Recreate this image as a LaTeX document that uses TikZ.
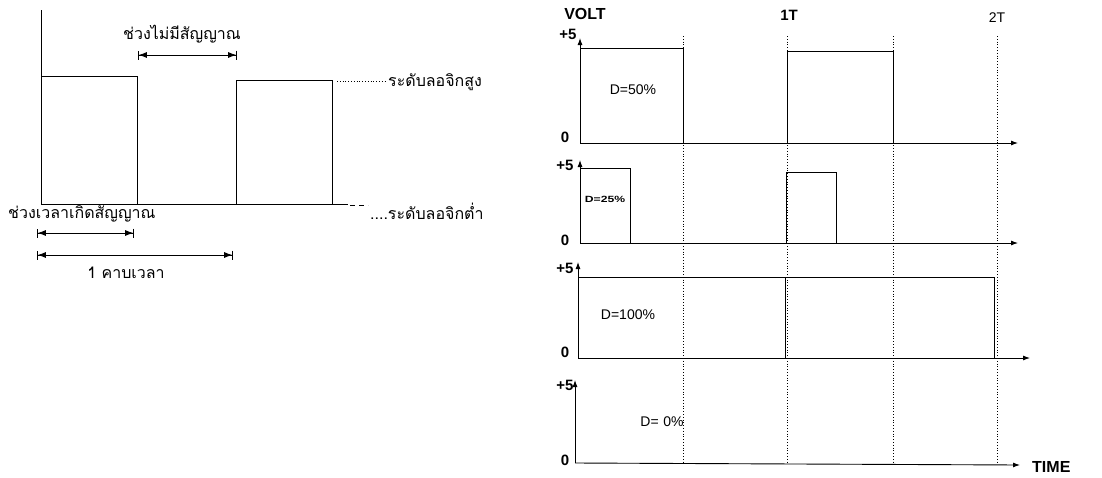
\documentclass[tikz,border=0pt]{standalone}
\usepackage{fontspec}
\usepackage{graphicx}
\setmainfont{Liberation Sans}
\newfontfamily\thaifont[Script=Thai]{Loma}
\usetikzlibrary{arrows.meta}
\tikzset{
  sig/.style={line width=1pt, line join=miter},
  axis/.style={line width=0.9pt},
  grid/.style={line width=0.8pt, dotted},
  dim/.style={line width=0.8pt, {Bar[width=9pt]Latex[length=8pt,width=6pt]}-{Latex[length=8pt,width=6pt]Bar[width=9pt]}},
  axarr/.style={axis, -{Latex[length=7pt,width=5pt]}},
  thai/.style={font=\thaifont\fontsize{16}{18}\selectfont, inner sep=0pt},
  lab/.style={font=\bfseries\fontsize{15}{17}\selectfont, inner sep=0pt},
  dlab/.style={font=\fontsize{14}{16}\selectfont, inner sep=0pt},
}
\begin{document}
\begin{tikzpicture}[x=1pt,y=-1pt]
\useasboundingbox (0,0) rectangle (1102,477);
% ---------- left diagram ----------
\coordinate (top) at (41,10);
\coordinate (o) at (41,204);
\coordinate (p1a) at (41,76);
\coordinate (p1b) at (137,76);
\coordinate (p1c) at (137,204);
\coordinate (p2a) at (236,204);
\coordinate (p2b) at (236,80);
\coordinate (p2c) at (332,80);
\coordinate (p2d) at (332,204);
\coordinate (bend) at (348,204);
\draw[sig] (top) -- (o) -- (bend);
\draw[sig] (p1a) -- (p1b) -- (p1c);
\draw[sig] (p2a) -- (p2b) -- (p2c) -- (p2d);
\coordinate (hd0) at (337,81);
\coordinate (hd1) at (386,81);
\draw[line width=0.8pt, dotted] (hd0) -- (hd1);
\node[thai, anchor=west] (high) at (388,82) {ระดับลอจิกสูง};
\coordinate (ld0) at (350,205);
\coordinate (ld1) at (368,205);
\draw[line width=0.8pt, dash pattern=on 5pt off 4pt] (ld0) -- (ld1);
\node[thai, anchor=west] (low) at (370,211) {....ระดับลอจิกต่ำ};
\node[thai] (nosig) at (182,34) {ช่วงไม่มีสัญญาณ};
\coordinate (ns0) at (138,55);
\coordinate (ns1) at (237,55);
\draw[dim] (ns0) -- (ns1);
\node[thai, anchor=west] (onsig) at (8,214) {ช่วงเวลาเกิดสัญญาณ};
\coordinate (a0) at (37,233);
\coordinate (a1) at (134,233);
\draw[dim] (a0) -- (a1);
\coordinate (b0) at (37,255);
\coordinate (b1) at (233,255);
\draw[dim] (b0) -- (b1);
\node[thai] (period) at (126,273) {1 คาบเวลา};
% ---------- right diagram ----------
\foreach \x/\n in {683/g1,787/g2,893/g3,997/g4}{
  \coordinate (\n t) at (\x,36);
  \coordinate (\n b) at (\x,462);
  \draw[grid] (\n t) -- (\n b);
}
\node[lab, font=\bfseries\fontsize{16}{18}\selectfont] (volt) at (585,14) {VOLT};
\node[lab] (t1) at (789,15) {1T};
\node[font=\fontsize{14}{16}\selectfont, inner sep=0pt] (t2) at (997,18) {2T};
% row 1
\node[lab] (r1p) at (568,34) {+5};
\node[lab] (r1z) at (565,137) {0};
\coordinate (r1o) at (580,143);
\coordinate (r1y) at (580,38);
\coordinate (r1x) at (1018,143);
\draw[axarr] (r1o) -- (r1y);
\draw[axarr] (r1o) -- (r1x);
\coordinate (r1a) at (580,48);
\coordinate (r1b) at (683,48);
\coordinate (r1c) at (683,143);
\draw[sig] (r1a) -- (r1b) -- (r1c);
\coordinate (r1d) at (787,143);
\coordinate (r1e) at (787,51);
\coordinate (r1f) at (893,51);
\coordinate (r1g) at (893,143);
\draw[sig] (r1d) -- (r1e) -- (r1f) -- (r1g);
\node[dlab] (d50) at (633,90) {D=50\%};
% row 2
\node[lab] (r2p) at (565,165) {+5};
\node[lab] (r2z) at (565,240) {0};
\coordinate (r2o) at (580,243);
\coordinate (r2y) at (580,160);
\coordinate (r2x) at (1018,243);
\draw[axarr] (r2o) -- (r2y);
\draw[axarr] (r2o) -- (r2x);
\coordinate (r2a) at (580,168);
\coordinate (r2b) at (630,168);
\coordinate (r2c) at (630,243);
\draw[sig] (r2a) -- (r2b) -- (r2c);
\coordinate (r2d) at (786,243);
\coordinate (r2e) at (786,172);
\coordinate (r2f) at (836,172);
\coordinate (r2g) at (836,243);
\draw[sig] (r2d) -- (r2e) -- (r2f) -- (r2g);
\node[font=\bfseries\fontsize{9}{10}\selectfont, inner sep=0pt] (d25) at (605,199) {\scalebox{1.35}[1]{D=25\%}};
% row 3
\node[lab] (r3p) at (565,268) {+5};
\node[lab] (r3z) at (565,352) {0};
\coordinate (r3o) at (578,358);
\coordinate (r3y) at (578,262);
\coordinate (r3x) at (994,358);
\coordinate (r3e) at (1030,358);
\draw[axarr] (r3o) -- (r3y);
\draw[axis] (r3o) -- (r3x);
\draw[axarr] (r3x) -- (r3e);
\coordinate (r3a) at (578,277);
\coordinate (r3b) at (994,277);
\draw[sig] (r3a) -- (r3b) -- (r3x);
\coordinate (r3m) at (785,277);
\coordinate (r3n) at (785,358);
\draw[sig] (r3m) -- (r3n);
\node[dlab] (d100) at (628,315) {D=100\%};
% row 4
\node[lab] (r4p) at (565,385) {+5};
\node[lab] (r4z) at (565,460) {0};
\coordinate (r4o) at (575,463);
\coordinate (r4y) at (575,380);
\coordinate (r4x) at (1020,465);
\draw[axarr] (r4o) -- (r4y);
\draw[axarr] (r4o) -- (r4x);
\node[dlab] (d0) at (662,422) {D=\,\,0\%};
\node[lab, font=\bfseries\fontsize{16}{18}\selectfont, anchor=west] (time) at (1032,467) {TIME};
\end{tikzpicture}
\end{document}
